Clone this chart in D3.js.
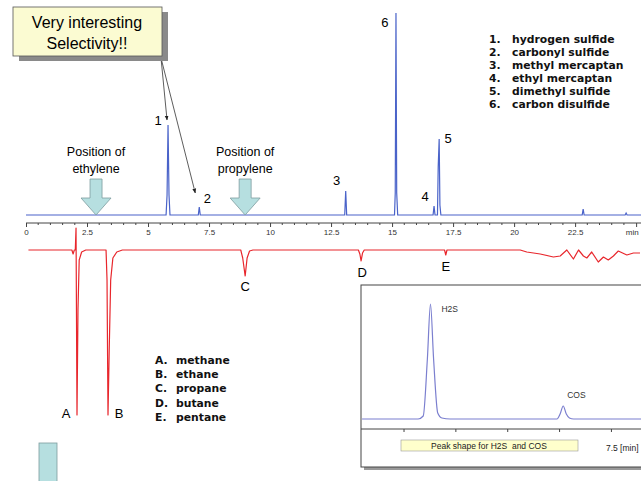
<!DOCTYPE html>
<html>
<head>
<meta charset="utf-8">
<script src="https://cdn.jsdelivr.net/npm/d3@7"></script>
<style>
  body { margin: 0; background: #fff; }
  svg { display: block; font-family: "Liberation Sans", Arial, sans-serif; }
  .axis text { font-size: 8px; fill: #333; }
  .axis path, .axis line { stroke: #444; }
  .legend { font-family: "DejaVu Sans", Verdana, sans-serif; font-weight: bold; font-size: 10.8px; fill: #111; }
</style>
</head>
<body>
<svg width="641" height="481"></svg>
<script>
// sulfur channel (blue), time in min / signal
var sulfurTime   = [0, 5.74, 5.78, 5.82, 5.86, 5.90, 7.06, 7.10, 7.14, 13.06, 13.10, 13.14,
                    15.10, 15.13, 15.16, 15.19, 15.23, 16.68, 16.72, 16.76, 16.86, 16.89, 16.93, 16.96, 17.00,
                    22.79, 22.83, 22.87, 24.55, 24.59, 24.63, 25.2];
var sulfurSignal = [0, 0, 20, 90, 20, 0, 0, 8, 0, 0, 24, 0,
                    0, 22, 202, 22, 0, 0, 9, 0, 0, 48, 76, 10, 0,
                    0, 6, 0, 0, 2, 0, 0];

// hydrocarbon channel (red), negative peaks
var hcTime   = [0.1, 1.88, 1.93, 1.98, 2.02, 2.05, 2.09, 2.13, 2.18, 2.28, 2.45,
                3.28, 3.32, 3.36, 3.41, 3.47, 3.56, 3.72, 3.95,
                8.80, 8.88, 8.98, 9.06, 9.16, 9.30,
                13.62, 13.68, 13.73, 13.79, 13.86, 17.15, 17.20, 17.25,
                20.25, 20.52, 21.07, 21.61, 21.89, 22.16, 22.43, 22.64, 22.84, 22.98, 23.18,
                23.45, 23.66, 23.86, 24.07, 24.27, 24.62, 24.89, 25.16];
var hcSignal = [0, 0, -4, 0, 0, 22, -165, -60, -10, -2, 0,
                0, -30, -165, -100, -30, -8, -2, 0,
                0, -8, -26, -8, -1, 0,
                0, -4, -11, -3, 0, 0, -5, 0,
                0, -2, -4, -7, -6, 0, -9, 0, -6, -8, -2,
                -12, -7, -10, -6, -1, -5, -3, -3];

// inset: H2S and COS peak shape
var insetTime   = [5.1, 5.64, 5.69, 5.73, 5.76, 5.79, 5.83, 5.87, 5.95, 6.98, 7.01, 7.04, 7.07, 7.10, 7.14, 7.8];
var insetSignal = [0, 0, 3, 60, 115, 60, 6, 1, 0, 0, 5, 13, 5, 1, 0, 0];
var insetTicks = [5.5, 6, 6.5, 7, 7.5];

var sulfurPeaks = [
  {label: "1", t: 5.82, s: 90},
  {label: "2", t: 7.10, s: 8},
  {label: "3", t: 13.10, s: 24},
  {label: "4", t: 16.72, s: 9},
  {label: "5", t: 16.93, s: 76},
  {label: "6", t: 15.16, s: 202}
];
var hcPeaks = [
  {label: "A", t: 2.09, s: -165},
  {label: "B", t: 3.36, s: -165},
  {label: "C", t: 8.98, s: -26},
  {label: "D", t: 13.73, s: -11},
  {label: "E", t: 17.20, s: -5}
];
var sulfurNames = ["hydrogen sulfide", "carbonyl sulfide", "methyl mercaptan",
                   "ethyl mercaptan", "dimethyl sulfide", "carbon disulfide"];
var hcNames = ["methane", "ethane", "propane", "butane", "pentane"];
var axisTicks = [0, 2.5, 5, 7.5, 10, 12.5, 15, 17.5, 20, 22.5, 25];
var olefins = [{name: ["Position of", "ethylene"], t: 2.87}, {name: ["Position of", "propylene"], t: 8.98}];

var svg = d3.select("svg");

var x = d3.scaleLinear().domain([0, 25.2]).range([26, 641]);
var yTop = d3.scaleLinear().domain([0, 200]).range([215, 15]);
var yBot = d3.scaleLinear().domain([-170, 30]).range([420, 220]);

var blue = "#4a63c9", red = "#e8262c", teal = "#b6dfe0";

// time axis
var axis = svg.append("g")
    .attr("class", "axis")
    .attr("transform", "translate(0,223)")
    .call(d3.axisBottom(x).tickValues(axisTicks).tickSize(4).tickPadding(2)
      .tickFormat(function(d) { return d === 25 ? "min" : d; }));
axis.select(".domain").attr("d", "M26,0H641");
axis.selectAll(".tick text").filter(function(d) { return d === 25; })
    .attr("text-anchor", "end").attr("dx", 2);
axis.selectAll(".minor")
  .data(d3.range(0.5, 25.1, 0.5).filter(function(d) { return d % 2.5 !== 0; }))
  .enter().append("line")
    .attr("x1", function(d) { return x(d); })
    .attr("x2", function(d) { return x(d); })
    .attr("y1", 0).attr("y2", 2)
    .attr("stroke", "#444");

var sulfurLine = d3.line()
  .x(function(d, i) { return x(sulfurTime[i]); })
  .y(function(d) { return yTop(d); });
svg.append("path")
    .datum(sulfurSignal)
    .attr("fill", "none")
    .attr("stroke", blue)
    .attr("stroke-width", 1.2)
    .attr("d", sulfurLine);

var hcLine = d3.line()
  .x(function(d, i) { return x(hcTime[i]); })
  .y(function(d) { return yBot(d); });
svg.append("path")
    .datum(hcSignal)
    .attr("fill", "none")
    .attr("stroke", red)
    .attr("stroke-width", 1.2)
    .attr("stroke-linejoin", "round")
    .attr("d", hcLine);

// peak labels
var numOffset = {"1": [-10, 0], "2": [8, -4], "3": [-9, -6], "4": [-9, -5], "5": [9, 4], "6": [-11, 14]};
svg.selectAll(".plabel")
  .data(sulfurPeaks)
  .enter().append("text")
    .attr("x", function(d) { return x(d.t) + numOffset[d.label][0]; })
    .attr("y", function(d) { return yTop(d.s) + numOffset[d.label][1]; })
    .attr("text-anchor", "middle")
    .attr("font-size", 13)
    .text(function(d) { return d.label; });

var letOffset = {A: [-11, 3], B: [11, 3], C: [0, 15], D: [1, 16], E: [0, 16]};
svg.selectAll(".hlabel")
  .data(hcPeaks)
  .enter().append("text")
    .attr("x", function(d) { return x(d.t) + letOffset[d.label][0]; })
    .attr("y", function(d) { return yBot(d.s) + letOffset[d.label][1]; })
    .attr("text-anchor", "middle")
    .attr("font-size", 13)
    .text(function(d) { return d.label; });

// olefin position arrows
olefins.forEach(function(o) {
  var cx = x(o.t);
  svg.append("text").attr("x", cx).attr("y", 156).attr("text-anchor", "middle")
    .attr("font-size", 12.5).text(o.name[0]);
  svg.append("text").attr("x", cx).attr("y", 173).attr("text-anchor", "middle")
    .attr("font-size", 12.5).text(o.name[1]);
  svg.append("path")
    .attr("d", "M" + (cx - 6) + ",179H" + (cx + 6) + "V198H" + (cx + 15) + "L" + cx + ",215L" + (cx - 15) + ",198H" + (cx - 6) + "Z")
    .attr("fill", teal)
    .attr("stroke", "#7d9c9e")
    .attr("stroke-width", 0.8);
});

// sulfur legend
var lg = svg.append("g").attr("class", "legend");
sulfurNames.forEach(function(n, i) {
  lg.append("text").attr("x", 489).attr("y", 43 + i * 13).text((i + 1) + ".");
  lg.append("text").attr("x", 512).attr("y", 43 + i * 13).text(n);
});
var lg2 = svg.append("g").attr("class", "legend");
hcNames.forEach(function(n, i) {
  lg2.append("text").attr("x", 155).attr("y", 364 + i * 14.2).text(String.fromCharCode(65 + i) + ".");
  lg2.append("text").attr("x", 176).attr("y", 364 + i * 14.2).text(n);
});

// callout box with arrows
svg.append("defs").append("marker")
    .attr("id", "ah").attr("viewBox", "0 0 10 10").attr("refX", 9).attr("refY", 5)
    .attr("markerWidth", 6).attr("markerHeight", 6).attr("orient", "auto")
  .append("path").attr("d", "M0,1L10,5L0,9Z").attr("fill", "#222");
[[sulfurPeaks[0], -1, -5], [sulfurPeaks[1], -4, -14]].forEach(function(a) {
  svg.append("line")
    .attr("x1", 161).attr("y1", 58)
    .attr("x2", x(a[0].t) + a[1]).attr("y2", yTop(a[0].s) + a[2])
    .attr("stroke", "#333").attr("stroke-width", 0.8)
    .attr("marker-end", "url(#ah)");
});
svg.append("rect").attr("x", 19).attr("y", 12).attr("width", 149).attr("height", 49).attr("fill", "#8a8a8a");
svg.append("rect").attr("x", 13).attr("y", 7).attr("width", 149).attr("height", 49)
    .attr("fill", "#fbfbd2").attr("stroke", "#555").attr("stroke-width", 0.8);
svg.append("text").attr("x", 87).attr("y", 28).attr("text-anchor", "middle").attr("font-size", 16).text("Very interesting");
svg.append("text").attr("x", 87).attr("y", 49).attr("text-anchor", "middle").attr("font-size", 16).text("Selectivity!!");

// bottom-left block
svg.append("rect").attr("x", 39).attr("y", 443).attr("width", 18).attr("height", 45)
    .attr("fill", teal).attr("stroke", "#7d9c9e").attr("stroke-width", 0.8);

// inset
var xi = d3.scaleLinear().domain([5.09, 7.79]).range([361, 641]);
var yi = d3.scaleLinear().domain([0, 115]).range([419, 304]);
svg.append("rect").attr("x", 364).attr("y", 288).attr("width", 290).attr("height", 182).attr("fill", "#999");
svg.append("rect").attr("x", 361).attr("y", 285).attr("width", 290).attr("height", 182)
    .attr("fill", "#fff").attr("stroke", "#444").attr("stroke-width", 1);
var ia = svg.append("g")
    .attr("class", "axis")
    .attr("transform", "translate(0,429)")
    .call(d3.axisBottom(xi).tickValues(insetTicks).tickSize(3).tickFormat(""));
ia.select(".domain").attr("d", "M361,0H641").attr("stroke", "#555");
var insetLine = d3.line()
  .x(function(d, i) { return xi(insetTime[i]); })
  .y(function(d) { return yi(d); })
  .curve(d3.curveMonotoneX);
svg.append("path")
    .datum(insetSignal)
    .attr("fill", "none")
    .attr("stroke", "#7b7fcf")
    .attr("stroke-width", 1.2)
    .attr("d", insetLine);
svg.append("text").attr("x", xi(5.76) + 11).attr("y", yi(115) + 8).attr("font-size", 8.5).attr("fill", "#333").text("H2S");
svg.append("text").attr("x", xi(7.04) + 4).attr("y", yi(13) - 8).attr("font-size", 8.5).attr("fill", "#333").text("COS");
svg.append("rect").attr("x", 401).attr("y", 440).attr("width", 177).attr("height", 11)
    .attr("fill", "#ffffcc").attr("stroke", "#999").attr("stroke-width", 0.6);
svg.append("text").attr("x", 489).attr("y", 448.5).attr("text-anchor", "middle").attr("font-size", 8.5).attr("fill", "#222")
    .text("Peak shape for H2S  and COS").style("white-space", "pre");
svg.append("text").attr("x", xi(7.5) - 5).attr("y", 451).attr("font-size", 8.5).attr("fill", "#222").text("7.5 [min]");
</script>
</body>
</html>
